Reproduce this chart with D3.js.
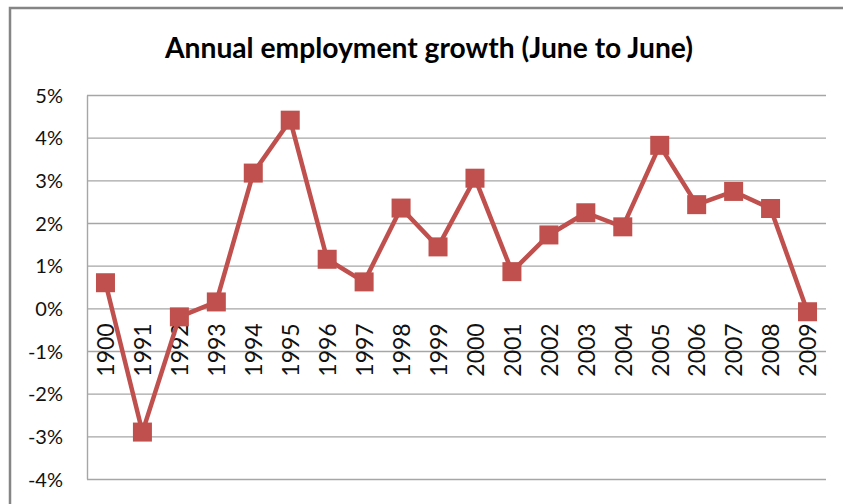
<!DOCTYPE html>
<html>
<head>
<meta charset="utf-8">
<script src="https://cdn.jsdelivr.net/npm/d3@7/dist/d3.min.js"></script>
<style>
  html, body { margin: 0; padding: 0; background: #fff; }
  svg { display: block; }
</style>
</head>
<body>
<script>
// Annual employment growth, June to June, in percent
const years = ["1900", "1991", "1992", "1993", "1994", "1995", "1996", "1997", "1998", "1999",
               "2000", "2001", "2002", "2003", "2004", "2005", "2006", "2007", "2008", "2009"];
const growth = [0.6, -2.9, -0.2, 0.15, 3.17, 4.41, 1.15, 0.62, 2.35, 1.44,
                3.05, 0.86, 1.72, 2.24, 1.91, 3.82, 2.43, 2.74, 2.34, -0.08];
const yTicks = [-4, -3, -2, -1, 0, 1, 2, 3, 4, 5];
const title = "Annual employment growth (June to June)";

const W = 843, H = 504;
const plot = { left: 87, right: 826, top: 95, bottom: 479 };
const red = "#c0504d";
const grid = "#a6a6a6";
const font = "Lato, 'Open Sans', sans-serif";

const svg = d3.select("body").append("svg")
  .attr("width", W).attr("height", H);

svg.append("rect").attr("width", W).attr("height", H).attr("fill", "#fff");

// chart frame (top and left edges)
svg.append("path")
  .attr("d", `M10,${H} V8 H${W}`)
  .attr("fill", "none")
  .attr("stroke", "#858585")
  .attr("stroke-width", 2.5);

// title
svg.append("text")
  .attr("x", 429).attr("y", 58)
  .attr("text-anchor", "middle")
  .attr("font-family", font)
  .attr("font-weight", 700)
  .attr("font-size", 29)
  .attr("fill", "#000")
  .attr("textLength", 528)
  .attr("lengthAdjust", "spacingAndGlyphs")
  .text(title);

const x = d3.scalePoint().domain(years).range([plot.left, plot.right]).padding(0.5);
const y = d3.scaleLinear().domain([d3.min(yTicks), d3.max(yTicks)]).range([plot.bottom, plot.top]);

// value axis with gridlines
const yAxis = svg.append("g")
  .attr("transform", `translate(${plot.left},0)`)
  .call(d3.axisLeft(y)
    .tickValues(yTicks)
    .tickSize(-(plot.right - plot.left))
    .tickSizeOuter(0)
    .tickPadding(24)
    .tickFormat(d => d + "%"));
yAxis.select(".domain").attr("stroke", grid).attr("stroke-width", 1.4);
yAxis.selectAll(".tick line").attr("stroke", grid).attr("stroke-width", 1.4);
yAxis.selectAll(".tick text")
  .attr("font-family", font)
  .attr("font-size", 20)
  .attr("fill", "#111")
  .attr("dy", "0.36em");

// category labels sitting under the zero line
const xAxis = svg.append("g")
  .attr("transform", `translate(0,${y(0)})`)
  .call(d3.axisBottom(x).tickSize(0));
xAxis.select(".domain").remove();
xAxis.selectAll(".tick text")
  .attr("transform", "rotate(-90)")
  .attr("text-anchor", "end")
  .attr("x", -15)
  .attr("y", 0)
  .attr("dy", "0.36em")
  .attr("font-family", font)
  .attr("font-size", 23)
  .attr("fill", "#111");

// series line
const line = d3.line()
  .x((d, i) => x(years[i]))
  .y(d => y(d));

svg.append("path")
  .datum(growth)
  .attr("d", line)
  .attr("fill", "none")
  .attr("stroke", red)
  .attr("stroke-width", 4.5)
  .attr("stroke-linejoin", "round");

// square markers
const m = 19;
svg.append("g").selectAll("rect")
  .data(growth)
  .join("rect")
  .attr("x", (d, i) => x(years[i]) - m / 2)
  .attr("y", d => y(d) - m / 2)
  .attr("width", m)
  .attr("height", m)
  .attr("fill", red);
</script>
</body>
</html>
